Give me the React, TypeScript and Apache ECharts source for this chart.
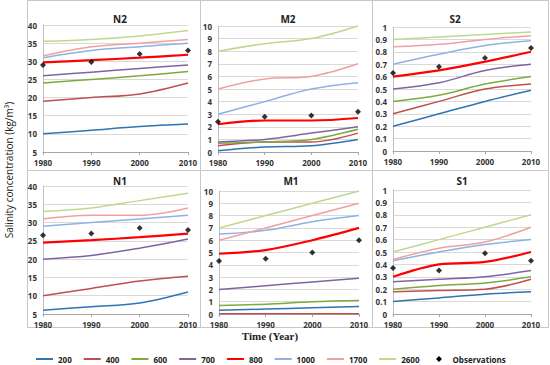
import React, { useEffect, useRef } from "react";
import * as echarts from "echarts";

const years = [1980, 1990, 2000, 2010];
const seriesNames = ["200", "400", "600", "700", "800", "1000", "1700", "2600"];
const seriesColors = ["#2F74B5", "#C0504D", "#7DAA3C", "#8064A2", "#FF0000", "#8DB3E2", "#F0A0A0", "#BFD88F"];

const n2 = [
  [10, 11, 12, 12.7],
  [19, 20, 21, 24],
  [24, 25, 26, 27.2],
  [26, 27, 28, 29],
  [29.7, 30.3, 31, 31.8],
  [31, 33, 34, 35],
  [31.5, 34, 35, 36],
  [35.5, 36, 37, 38.5],
];
const n2Obs = [29, 29.8, 32, 33];

const m2 = [
  [0.1, 0.4, 0.5, 1.0],
  [0.5, 0.8, 0.8, 1.5],
  [0.7, 0.8, 1.0, 1.8],
  [0.8, 1.0, 1.5, 2.0],
  [2.2, 2.5, 2.5, 2.7],
  [3, 4, 5, 5.5],
  [5, 5.8, 6, 7],
  [8, 8.6, 9, 10],
];
const m2Obs = [2.4, 2.8, 2.9, 3.2];

const s2 = [
  [0.2, 0.3, 0.4, 0.49],
  [0.3, 0.4, 0.5, 0.54],
  [0.4, 0.45, 0.54, 0.6],
  [0.5, 0.55, 0.65, 0.7],
  [0.6, 0.65, 0.72, 0.8],
  [0.7, 0.78, 0.85, 0.89],
  [0.84, 0.86, 0.9, 0.93],
  [0.9, 0.92, 0.94, 0.96],
];
const s2Obs = [0.63, 0.68, 0.75, 0.83];

const n1 = [
  [6, 7, 8, 11],
  [10, 12, 14, 15.3],
  [null, null, null, null],
  [20, 21, 23, 25.5],
  [24.5, 25.2, 26, 27],
  [29, 30, 31, 32],
  [31, 32, 32, 34],
  [33, 34, 36, 38],
];
const n1Obs = [26.5, 27, 28.5, 28];

const m1 = [
  [0.3, 0.4, 0.5, 0.6],
  [0.03, 0.03, 0.03, 0.03],
  [0.7, 0.8, 1.0, 1.1],
  [2, 2.3, 2.6, 2.9],
  [4.9, 5.2, 6, 7],
  [6.5, 6.8, 7.5, 8],
  [6, 7, 8, 9],
  [7, 8, 9, 10],
];
const m1Obs = [4.3, 4.5, 5, 6];

const s1 = [
  [0.1, 0.13, 0.16, 0.18],
  [0.18, 0.19, 0.2, 0.28],
  [0.2, 0.23, 0.25, 0.3],
  [0.26, 0.28, 0.3, 0.35],
  [0.3, 0.4, 0.42, 0.5],
  [0.43, 0.5, 0.56, 0.6],
  [0.44, 0.53, 0.58, 0.7],
  [0.5, 0.6, 0.7, 0.8],
];
const s1Obs = [0.37, 0.35, 0.49, 0.43];

const panelTitles = ["N2", "M2", "S2", "N1", "M1", "S1"];
const panelData = [n2, m2, s2, n1, m1, s1];
const panelObs = [n2Obs, m2Obs, s2Obs, n1Obs, m1Obs, s1Obs];
const yMin = [5, 0, 0, 5, 0, 0];
const yMax = [40, 10, 1, 40, 10, 1];
const yStep = [5, 1, 0.1, 5, 1, 0.1];

const grids = [
  { left: 43, top: 25, width: 145, height: 127 },
  { left: 218, top: 26, width: 140, height: 126 },
  { left: 393, top: 27, width: 138, height: 124 },
  { left: 43, top: 186, width: 145, height: 128 },
  { left: 219, top: 191, width: 140, height: 123 },
  { left: 393, top: 190, width: 138, height: 124 },
];
const titlePos = [
  [115, 9],
  [283, 9],
  [450, 9],
  [115, 171],
  [286, 171],
  [457, 171],
];

const FONT = "'Open Sans', 'Liberation Sans', sans-serif";

export default function App() {
  const ref = useRef<HTMLDivElement>(null);
  useEffect(() => {
    const chart = echarts.init(ref.current!, null, { renderer: "svg" });
    const xAxis: any[] = [];
    const yAxis: any[] = [];
    const series: any[] = [];
    grids.forEach((g, i) => {
      xAxis.push({
        type: "value",
        gridIndex: i,
        min: 1980,
        max: 2010,
        interval: 10,
        axisLine: { lineStyle: { color: "#A6A6A6" } },
        axisTick: { show: true, length: 3, lineStyle: { color: "#A6A6A6" } },
        splitLine: { show: false },
        axisLabel: {
          fontSize: 8,
          fontWeight: "bold",
          color: "#333",
          fontFamily: FONT,
          margin: 6,
          formatter: (v: number) => String(v),
        },
      });
      yAxis.push({
        type: "value",
        gridIndex: i,
        min: yMin[i],
        max: yMax[i],
        interval: yStep[i],
        axisLine: { show: true, lineStyle: { color: "#BFBFBF" } },
        axisTick: { show: false },
        splitLine: { lineStyle: { color: "#D9D9D9" } },
        axisLabel: {
          fontSize: 8,
          fontWeight: "bold",
          color: "#333",
          fontFamily: FONT,
          margin: 6,
        },
      });
      panelData[i].forEach((vals, k) => {
        series.push({
          type: "line",
          name: seriesNames[k],
          xAxisIndex: i,
          yAxisIndex: i,
          data: years.map((y, j) => [y, vals[j]]),
          smooth: 0.35,
          symbol: "none",
          lineStyle: { color: seriesColors[k], width: k === 4 ? 2.2 : 1.5 },
          itemStyle: { color: seriesColors[k] },
          z: k === 4 ? 3 : 2,
        });
      });
      series.push({
        type: "scatter",
        name: "Observations",
        xAxisIndex: i,
        yAxisIndex: i,
        data: years.map((y, j) => [y, panelObs[i][j]]),
        symbol: "diamond",
        symbolSize: 6,
        itemStyle: { color: "#000" },
        z: 5,
      });
    });

    const rects: any[] = [];
    const cols = [
      [27, 200],
      [200, 372],
      [372, 548],
    ];
    const rows = [
      [0, 170],
      [170, 327],
    ];
    rows.forEach((r) =>
      cols.forEach((c) =>
        rects.push({
          type: "rect",
          shape: { x: c[0] + 0.5, y: r[0] + 0.5, width: c[1] - c[0], height: r[1] - r[0] },
          style: { fill: "none", stroke: "#C8C8C8", lineWidth: 1 },
          z: -1,
        })
      )
    );

    chart.setOption({
      animation: false,
      backgroundColor: "#fff",
      title: panelTitles.map((t, i) => ({
        text: t,
        left: titlePos[i][0],
        top: titlePos[i][1],
        textAlign: "center",
        textStyle: { fontSize: 10, fontWeight: "bold", color: "#222", fontFamily: FONT },
      })),
      grid: grids.map((g) => ({ ...g, containLabel: false })),
      xAxis,
      yAxis,
      series,
      legend: {
        left: 30,
        top: 350,
        itemWidth: 17,
        itemHeight: 8,
        itemGap: 11,
        itemStyle: { opacity: 0 },
        lineStyle: { width: 2 },
        data: [
          ...seriesNames,
          {
            name: "Observations",
            icon: "path://M0,0 M8.5,1 L11.5,4 L8.5,7 L5.5,4 Z M17,8",
            itemStyle: { color: "#000", opacity: 1 },
          },
        ],
        textStyle: { fontSize: 8, fontWeight: "bold", color: "#222", fontFamily: FONT },
      },
      graphic: [
        ...rects,
        {
          type: "text",
          x: 9,
          y: 170,
          rotation: Math.PI / 2,
          style: {
            text: "Salinity concentration (kg/m³)",
            fontSize: 10,
            fontFamily: FONT,
            fill: "#222",
            textAlign: "center",
            textVerticalAlign: "middle",
          },
        },
        {
          type: "text",
          x: 270,
          y: 336,
          style: {
            text: "Time (Year)",
            fontSize: 11,
            fontWeight: "bold",
            fontFamily: "'Liberation Serif', 'DejaVu Serif', serif",
            fill: "#222",
            textAlign: "center",
            textVerticalAlign: "middle",
          },
        },
      ],
    });
    return () => chart.dispose();
  }, []);
  return <div ref={ref} style={{ width: 550, height: 365, position: "absolute", left: 0, top: 0 }} />;
}
